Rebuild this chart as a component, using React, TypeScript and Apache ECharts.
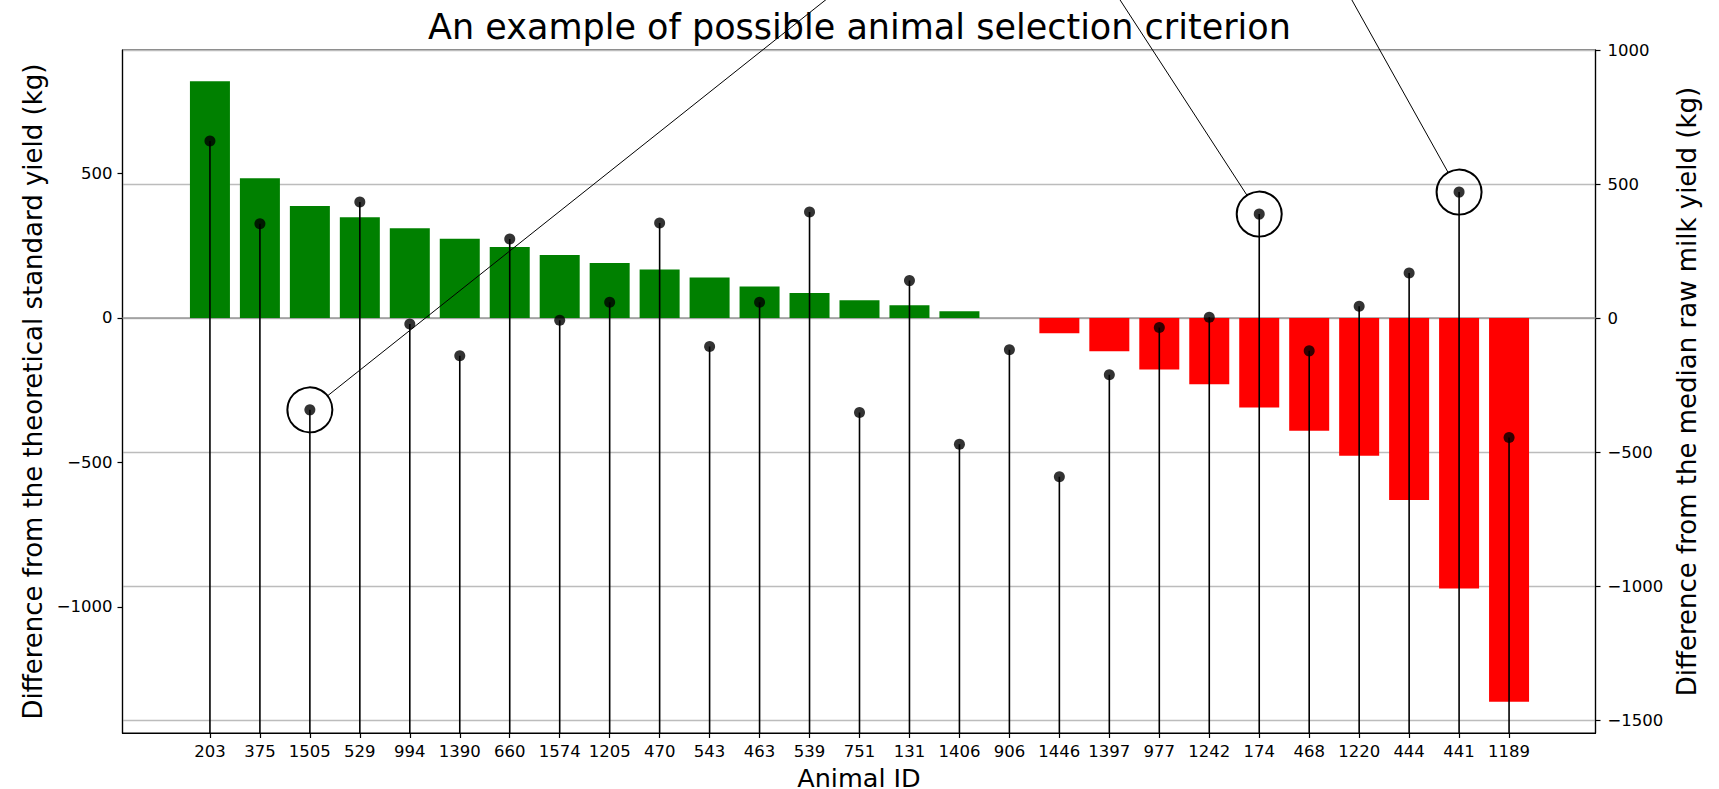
import React, { useEffect, useRef } from "react";
import * as echarts from "echarts";

// ---- data ----
const animalIds = [
  "203", "375", "1505", "529", "994", "1390", "660", "1574", "1205", "470",
  "543", "463", "539", "751", "131", "1406", "906", "1446", "1397", "977",
  "1242", "174", "468", "1220", "444", "441", "1189",
];
// bars, left axis: difference from the theoretical standard yield (kg)
const standardYieldDiff = [
  819, 483, 387, 348, 310, 274, 245, 218, 190, 168,
  140, 109, 86, 61, 44, 23, 0, -53, -115, -178,
  -229, -310, -390, -477, -630, -936, -1328,
];
// stems, right axis: difference from the median raw milk yield (kg)
const medianYieldDiff = [
  661, 352, -342, 433, -22, -140, 295, -8, 59, 355,
  -106, 59, 396, -352, 140, -470, -118, -591, -211, -35,
  3, 388, -122, 44, 168, 470, -445,
];
const leftTickValues = [-1000, -500, 0, 500];
const rightTickValues = [-1500, -1000, -500, 0, 500, 1000];
const zeroLine = [0, 0];
// circled animals and where their leader lines head (x index, right-axis value), above the plot
const highlightedIds = ["1505", "174", "441"];
const annotationTargetX = [12.33, 18.21, 22.85];
const annotationTargetY = [1188, 1188, 1188];

const LEFT_MIN = -1436;
const LEFT_MAX = 927;
const RIGHT_MIN = -1547;
const RIGHT_MAX = 1000;
const X_MIN = -1.75;
const X_MAX = 27.73;

const FONT = "DejaVu Sans";
const GREEN = "#008000";
const RED = "#ff0000";

const fmt = (v: number) => (v < 0 ? "\u2212" + Math.abs(v) : String(v));

export default function App() {
  const ref = useRef<HTMLDivElement>(null);

  useEffect(() => {
    if (!ref.current) return;
    document.body.style.margin = "0";
    const chart = echarts.init(ref.current, undefined, { renderer: "svg" });
    const indices = animalIds.map((_, i) => i);

    chart.setOption({
      animation: false,
      backgroundColor: "#ffffff",
      textStyle: { fontFamily: FONT },
      title: {
        text: "An example of possible animal selection criterion",
        left: "center",
        top: 4,
        textStyle: { fontFamily: FONT, fontSize: 35, fontWeight: "normal", color: "#000" },
      },
      grid: {
        left: 122.5,
        right: 123.5,
        top: 50,
        bottom: 56,
        containLabel: false,
        outerBoundsMode: "none",
        show: true,
        borderColor: "#000",
        borderWidth: 1.2,
        backgroundColor: "transparent",
      },
      xAxis: {
        type: "value",
        min: X_MIN,
        max: X_MAX,
        name: "Animal ID",
        nameLocation: "middle",
        nameGap: 28,
        nameTextStyle: { fontFamily: FONT, fontSize: 25.5, lineHeight: 26, color: "#000" },
        axisLine: { show: true, onZero: false, lineStyle: { color: "#000", width: 1.2 } },
        axisTick: { show: true, inside: false, length: 5, customValues: indices, lineStyle: { color: "#000", width: 1.2 } },
        axisLabel: {
          show: true,
          margin: 10,
          customValues: indices,
          formatter: (v: number) => animalIds[Math.round(v)] ?? "",
          fontFamily: FONT,
          fontSize: 16.5,
          color: "#000",
        },
        splitLine: { show: false },
      },
      yAxis: [
        {
          type: "value",
          position: "left",
          min: LEFT_MIN,
          max: LEFT_MAX,
          name: "Difference from the theoretical standard yield (kg)",
          nameLocation: "middle",
          nameRotate: 90,
          nameGap: 76,
          nameTextStyle: { fontFamily: FONT, fontSize: 26, color: "#000" },
          axisLine: { show: true, onZero: false, lineStyle: { color: "#000", width: 1.2 } },
          axisTick: { show: true, length: 5, customValues: leftTickValues, lineStyle: { color: "#000", width: 1.2 } },
          axisLabel: {
            customValues: leftTickValues,
            formatter: fmt,
            margin: 10,
            fontFamily: FONT,
            fontSize: 16.5,
            color: "#000",
          },
          splitLine: { show: false },
        },
        {
          type: "value",
          position: "right",
          min: RIGHT_MIN,
          max: RIGHT_MAX,
          name: "Difference from the median raw milk yield (kg)",
          nameLocation: "middle",
          nameRotate: 90,
          nameGap: 75,
          nameTextStyle: { fontFamily: FONT, fontSize: 26, color: "#000" },
          axisLine: { show: true, onZero: false, lineStyle: { color: "#000", width: 1.2 } },
          axisTick: { show: true, length: 5, customValues: rightTickValues, lineStyle: { color: "#000", width: 1.2 } },
          axisLabel: {
            customValues: rightTickValues,
            formatter: fmt,
            margin: 12,
            fontFamily: FONT,
            fontSize: 16.5,
            color: "#000",
          },
          splitLine: { show: true, lineStyle: { color: "#bcbcbc", width: 1.3 } },
        },
      ],
      series: [
        {
          type: "line",
          xAxisIndex: 0,
          yAxisIndex: 0,
          data: [
            [X_MIN, zeroLine[0]],
            [X_MAX, zeroLine[1]],
          ],
          symbol: "none",
          silent: true,
          z: 1,
          lineStyle: { color: "#9a9a9a", width: 1.5 },
        },
        {
          type: "bar",
          xAxisIndex: 0,
          yAxisIndex: 0,
          barWidth: 40,
          z: 2,
          data: standardYieldDiff.map((v, i) => ({
            value: [i, v],
            itemStyle: { color: v >= 0 ? GREEN : RED },
          })),
        },
        {
          type: "custom",
          xAxisIndex: 0,
          yAxisIndex: 1,
          z: 3,
          silent: true,
          data: medianYieldDiff.map((v, i) => [i, v]),
          renderItem: (_params: any, api: any) => {
            const x = api.value(0);
            const y = api.value(1);
            const top = api.coord([x, y]);
            const base = api.coord([x, RIGHT_MIN]);
            return {
              type: "line",
              shape: { x1: top[0], y1: base[1], x2: top[0], y2: top[1] },
              style: { stroke: "#000", lineWidth: 1.6 },
            };
          },
        },
        {
          type: "scatter",
          xAxisIndex: 0,
          yAxisIndex: 1,
          z: 4,
          symbol: "circle",
          symbolSize: 11,
          itemStyle: { color: "#000" },
          data: medianYieldDiff.map((v, i) => [i, v]),
        },
      ],
    });

    const R = 22.5;
    const graphics: any[] = [];
    highlightedIds.forEach((id, k) => {
      const i = animalIds.indexOf(id);
      const c = chart.convertToPixel({ xAxisIndex: 0, yAxisIndex: 1 } as any, [i, medianYieldDiff[i]]) as number[];
      const t = chart.convertToPixel({ xAxisIndex: 0, yAxisIndex: 1 } as any, [
        annotationTargetX[k],
        annotationTargetY[k],
      ]) as number[];
      const dx = t[0] - c[0];
      const dy = t[1] - c[1];
      const len = Math.hypot(dx, dy) || 1;
      graphics.push({
        type: "circle",
        z: 20,
        silent: true,
        shape: { cx: c[0], cy: c[1], r: R },
        style: { fill: "none", stroke: "#000", lineWidth: 2 },
      });
      graphics.push({
        type: "line",
        z: 20,
        silent: true,
        shape: { x1: c[0] + (dx / len) * R, y1: c[1] + (dy / len) * R, x2: t[0], y2: t[1] },
        style: { stroke: "#000", lineWidth: 1 },
      });
    });
    chart.setOption({ graphic: graphics });

    return () => chart.dispose();
  }, []);

  return (
    <div
      ref={ref}
      style={{ position: "absolute", left: 0, top: 0, width: 1719, height: 789, background: "#fff" }}
    />
  );
}
